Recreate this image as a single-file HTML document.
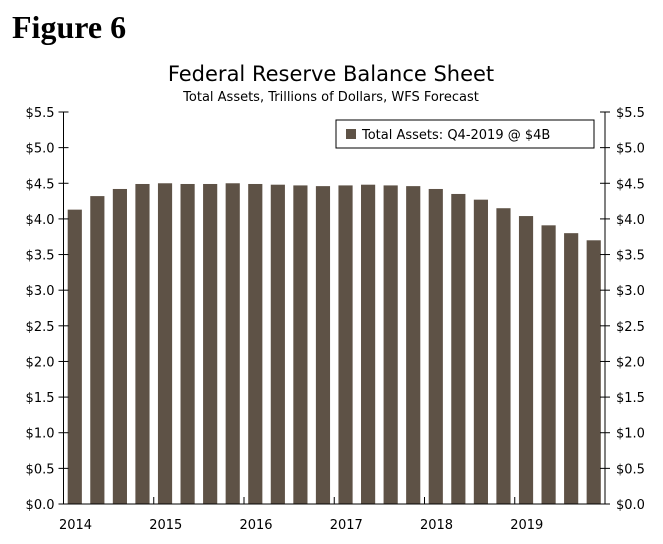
<!DOCTYPE html>
<html><head><meta charset="utf-8"><style>
body{margin:0;background:#fff;width:663px;height:540px;overflow:hidden;font-family:"DejaVu Sans",Verdana,sans-serif}
</style></head><body>
<svg width="663" height="540" id="c">
<text x="12" y="38" font-family="Liberation Serif, serif" font-weight="bold" font-size="32">Figure 6</text>
<text x="331" y="81" text-anchor="middle" font-size="21">Federal Reserve Balance Sheet</text>
<text x="331" y="101" text-anchor="middle" font-size="13">Total Assets, Trillions of Dollars, WFS Forecast</text>
<g id="g"></g>
<rect x="336" y="120" width="258" height="28" fill="#fff" stroke="#000" stroke-width="1"/>
<rect x="346" y="129" width="10" height="10" fill="#5e5246"/>
<text x="362" y="139" font-size="13">Total Assets: Q4-2019 @ $4B</text>
</svg>
<script>
const values=[4.13,4.32,4.42,4.49,4.50,4.49,4.49,4.50,4.49,4.48,4.47,4.46,4.47,4.48,4.47,4.46,4.42,4.35,4.27,4.15,4.04,3.91,3.80,3.70];
const yTicks=[0,0.5,1,1.5,2,2.5,3,3.5,4,4.5,5,5.5];
const years=["2014","2015","2016","2017","2018","2019"];
const X0=63.5,X1=605,Y0=504,Y1=112,MAX=5.5;
const n=values.length,step=(X1-X0)/n;
const y=v=>Y0-(v/MAX)*(Y0-Y1);
const x=i=>X0+i*step;
const g=document.getElementById('g');
const NS='http://www.w3.org/2000/svg';
function mk(t,a){const e=document.createElementNS(NS,t);for(const k in a)e.setAttribute(k,a[k]);g.appendChild(e);return e;}
values.forEach((v,i)=>{
const r=mk('rect',{x:x(i)+4.2,y:y(v),width:step-8.4,height:Y0-y(v),fill:'#5e5246'});


});
let l=mk('line',{x1:X0,y1:Y1,x2:X0,y2:Y0,stroke:'#000'});


l=mk('line',{x1:X1,y1:Y1,x2:X1,y2:Y0,stroke:'#000'});


l=mk('line',{x1:X0,y1:Y0,x2:X1,y2:Y0,stroke:'#000'});


yTicks.forEach(v=>{
const yy=y(v);
mk('line',{x1:X0-5,y1:yy,x2:X0+5,y2:yy,stroke:'#000'});
mk('line',{x1:X1-5,y1:yy,x2:X1+5,y2:yy,stroke:'#000'});
let t=mk('text',{x:X0-9,y:yy+5,'text-anchor':'end','font-size':13});
t.textContent='$'+v.toFixed(1);


t=mk('text',{x:X1+11,y:yy+5,'font-size':13});
t.textContent='$'+v.toFixed(1);


});
for(let k=0;k<=years.length;k++){
const xx=x(k*4);
mk('line',{x1:xx,y1:Y0,x2:xx,y2:Y0-7,stroke:'#000'});
if(k<years.length){
const t=mk('text',{x:xx+12,y:529,'text-anchor':'middle','font-size':13});
t.textContent=years[k];


}
}
</script>
</body></html>
